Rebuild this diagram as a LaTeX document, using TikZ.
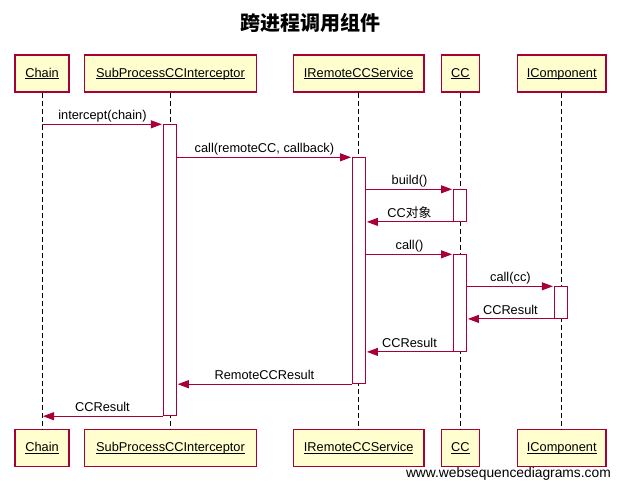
\documentclass[tikz,border=0pt]{standalone}
\usepackage{fontspec}
\setmainfont{Liberation Sans}
\newfontfamily\cjk{Noto Sans CJK SC}
\usetikzlibrary{arrows.meta}
\definecolor{seqline}{HTML}{A80036}
\definecolor{seqfill}{HTML}{FEFECE}
% participant name with a rule at a fixed distance below the baseline
\newcommand\ulname[1]{\setbox0=\hbox{#1}\rlap{\copy0}\rule[-1.8pt]{\wd0}{0.6pt}}
\begin{document}
\begin{tikzpicture}[x=1pt,y=-1pt,
  font=\fontsize{12.8}{15}\selectfont,
  party/.style={draw=seqline, fill=seqfill, line width=1.2pt, minimum height=37pt, inner sep=0pt,
                text height=9.5pt, text depth=2.5pt},
  life/.style={draw=black, line width=0.9pt, dash pattern=on 5pt off 3pt},
  actbar/.style={draw=seqline, fill=white, line width=0.9pt, minimum width=13pt, inner sep=0pt, anchor=north},
  msg/.style={draw=seqline, line width=0.9pt, -{Triangle[length=11pt,width=8pt]}, shorten >=1pt},
  lbl/.style={midway, anchor=base, yshift=4.5pt, inner sep=0pt, text=black}]
\useasboundingbox (0,0) rectangle (621,490);

% title
\node (title) at (310.5,23) {\cjk\bfseries\fontsize{20}{24}\selectfont 跨进程调用组件};

% participants, top row
\node[party, minimum width=54pt]    (pChainT) at (42,73.5)    {\ulname{Chain}};
\node[party, minimum width=172pt]   (pSubT)   at (170.5,73.5) {\ulname{SubProcessCCInterceptor}};
\node[party, minimum width=130.5pt] (pRemT)   at (358.7,73.5) {\ulname{IRemoteCCService}};
\node[party, minimum width=38pt]    (pCCT)    at (460.3,73.5) {\ulname{CC}};
\node[party, minimum width=88.7pt]  (pCompT)  at (561.7,73.5) {\ulname{IComponent}};

% participants, bottom row
\node[party, minimum width=54pt]    (pChainB) at (42,448)    {\ulname{Chain}};
\node[party, minimum width=172pt]   (pSubB)   at (170.5,448) {\ulname{SubProcessCCInterceptor}};
\node[party, minimum width=130.5pt] (pRemB)   at (358.7,448) {\ulname{IRemoteCCService}};
\node[party, minimum width=38pt]    (pCCB)    at (460.3,448) {\ulname{CC}};
\node[party, minimum width=88.7pt]  (pCompB)  at (561.7,448) {\ulname{IComponent}};

% lifelines
\draw[life] (pChainT.south) -- (pChainB.north);
\draw[life] (pSubT.south)   -- (pSubB.north);
\draw[life] (pRemT.south)   -- (pRemB.north);
\draw[life] (pCCT.south)    -- (pCCB.north);
\draw[life] (pCompT.south)  -- (pCompB.north);

% activation bars
\node[actbar, minimum height=291pt]  (actSub)  at (169.8,124.3) {};
\node[actbar, minimum height=226pt]  (actRem)  at (359,157.3)   {};
\node[actbar, minimum height=31.7pt] (actCC1)  at (460,189.3)   {};
\node[actbar, minimum height=96.7pt] (actCC2)  at (460,254.3)   {};
\node[actbar, minimum height=31.7pt] (actComp) at (560.8,286.3) {};

% messages
\draw[msg] (pChainT |- actSub.north) -- (actSub.north west) node[lbl] {intercept(chain)};
\draw[msg] (actSub.east |- actRem.north) -- (actRem.north west) node[lbl] {call(remoteCC, callback)};
\draw[msg] (actRem.east |- actCC1.north) -- (actCC1.north west) node[lbl] {build()};
\draw[msg] (actCC1.south west) -- (actRem.east |- actCC1.south) node[lbl] {CC{\cjk 对象}};
\draw[msg] (actRem.east |- actCC2.north) -- (actCC2.north west) node[lbl] {call()};
\draw[msg] (actCC2.east |- actComp.north) -- (actComp.north west) node[lbl] {call(cc)};
\draw[msg] (actComp.south west) -- (actCC2.east |- actComp.south) node[lbl] {CCResult};
\draw[msg] (actCC2.south west) -- (actRem.east |- actCC2.south) node[lbl] {CCResult};
\draw[msg] (actRem.south west) -- (actSub.east |- actRem.south) node[lbl] {RemoteCCResult};
\draw[msg] (actSub.south west) -- (pChainT |- actSub.south) node[lbl] {CCResult};

% footer
\node[anchor=east, inner sep=0pt, font=\fontsize{13.8}{16}\selectfont] (credit) at (611,473.5) {www.websequencediagrams.com};
\end{tikzpicture}
\end{document}
